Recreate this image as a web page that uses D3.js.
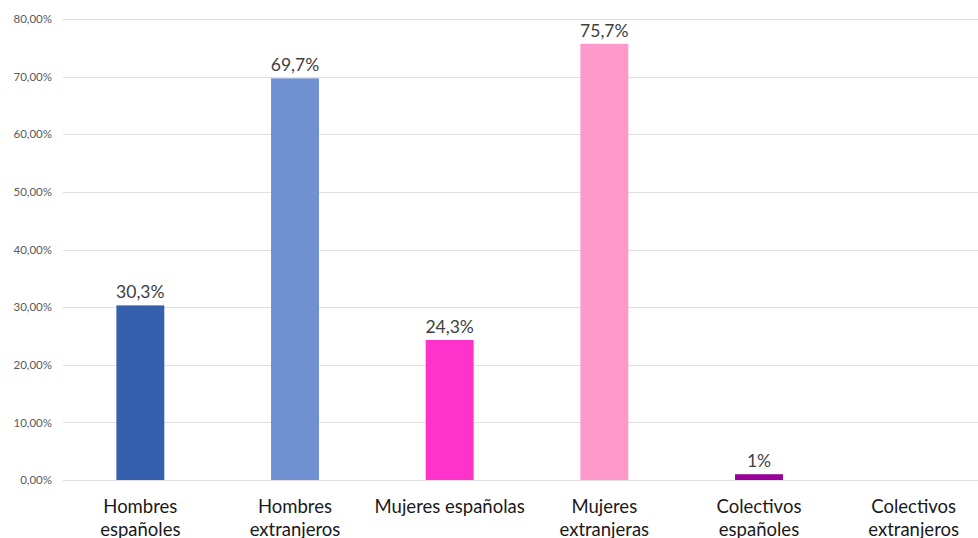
<!DOCTYPE html>
<html>
<head>
<meta charset="utf-8">
<script src="https://cdn.jsdelivr.net/npm/d3@7"></script>
<style>
body { margin: 0; background: #fff; }
svg { display: block; font-family: Lato, "Noto Sans", sans-serif; }
</style>
</head>
<body>
<div id="chart"></div>
<script>
var categories = ["Hombres españoles", "Hombres extranjeros", "Mujeres españolas",
                  "Mujeres extranjeras", "Colectivos españoles", "Colectivos extranjeros"];
var catLines = [["Hombres", "españoles"], ["Hombres", "extranjeros"], ["Mujeres españolas"],
                ["Mujeres", "extranjeras"], ["Colectivos", "españoles"], ["Colectivos", "extranjeros"]];
var values = [30.3, 69.7, 24.3, 75.7, 1, null];
var valueLabels = ["30,3%", "69,7%", "24,3%", "75,7%", "1%", ""];
var colors = ["#3560AD", "#6F91D2", "#FF33CC", "#FF99CC", "#990099", "#999999"];
var ticks = [0, 10, 20, 30, 40, 50, 60, 70, 80];

var W = 978, H = 538;
var plotLeft = 63, plotRight = 991, plotTop = 19, plotBottom = 480;

var svg = d3.select("#chart").append("svg")
    .attr("width", W)
    .attr("height", H);

var x = d3.scaleBand()
    .domain(categories)
    .range([plotLeft, plotRight])
    .paddingInner(0.69)
    .paddingOuter(0.345);

var y = d3.scaleLinear()
    .domain([0, 80])
    .range([plotBottom, plotTop]);

// gridlines
svg.append("g").selectAll("line")
    .data(ticks)
    .enter().append("line")
    .attr("x1", plotLeft)
    .attr("x2", plotRight)
    .attr("y1", function(d) { return Math.round(y(d)) + 0.5; })
    .attr("y2", function(d) { return Math.round(y(d)) + 0.5; })
    .style("stroke", "#e0e0e0")
    .style("stroke-width", 1);

// y axis labels
var yAxis = d3.axisLeft(y)
    .tickValues(ticks)
    .tickSize(0)
    .tickPadding(0)
    .tickFormat(function(d) { return d3.format(".2f")(d).replace(".", ",") + "%"; });
var ya = svg.append("g")
    .attr("transform", "translate(52,0)")
    .call(yAxis);
ya.select(".domain").remove();
ya.selectAll("text")
    .style("font-family", "Lato, 'Noto Sans', sans-serif")
    .style("font-size", "11.5px")
    .style("fill", "#595959");

// bars
var data = categories.map(function(c, i) { return {cat: c, v: values[i], lab: valueLabels[i], col: colors[i]}; });
var bars = data.filter(function(d) { return d.v != null; });

svg.append("g").selectAll("rect")
    .data(bars)
    .enter().append("rect")
    .attr("x", function(d) { return x(d.cat); })
    .attr("y", function(d) { return y(d.v); })
    .attr("width", x.bandwidth())
    .attr("height", function(d) { return y(0) - y(d.v); })
    .style("fill", function(d) { return d.col; });

// value labels
svg.append("g").selectAll("text")
    .data(bars)
    .enter().append("text")
    .attr("x", function(d) { return x(d.cat) + x.bandwidth()/2; })
    .attr("y", function(d) { return y(d.v) - 7; })
    .style("text-anchor", "middle")
    .style("font-size", "17.5px")
    .style("fill", "#404040")
    .text(function(d) { return d.lab; });

// category labels
var cg = svg.append("g").selectAll("text")
    .data(categories)
    .enter().append("text")
    .attr("x", function(d) { return x(d) + x.bandwidth()/2; })
    .attr("y", 513)
    .style("text-anchor", "middle")
    .style("font-size", "18.5px")
    .style("fill", "#1a1a1a");
cg.selectAll("tspan")
    .data(function(d, i) { return catLines[i]; })
    .enter().append("tspan")
    .attr("x", function() { return d3.select(this.parentNode).attr("x"); })
    .attr("dy", function(d, i) { return i == 0 ? 0 : 23; })
    .text(function(d) { return d; });
</script>
</body>
</html>
